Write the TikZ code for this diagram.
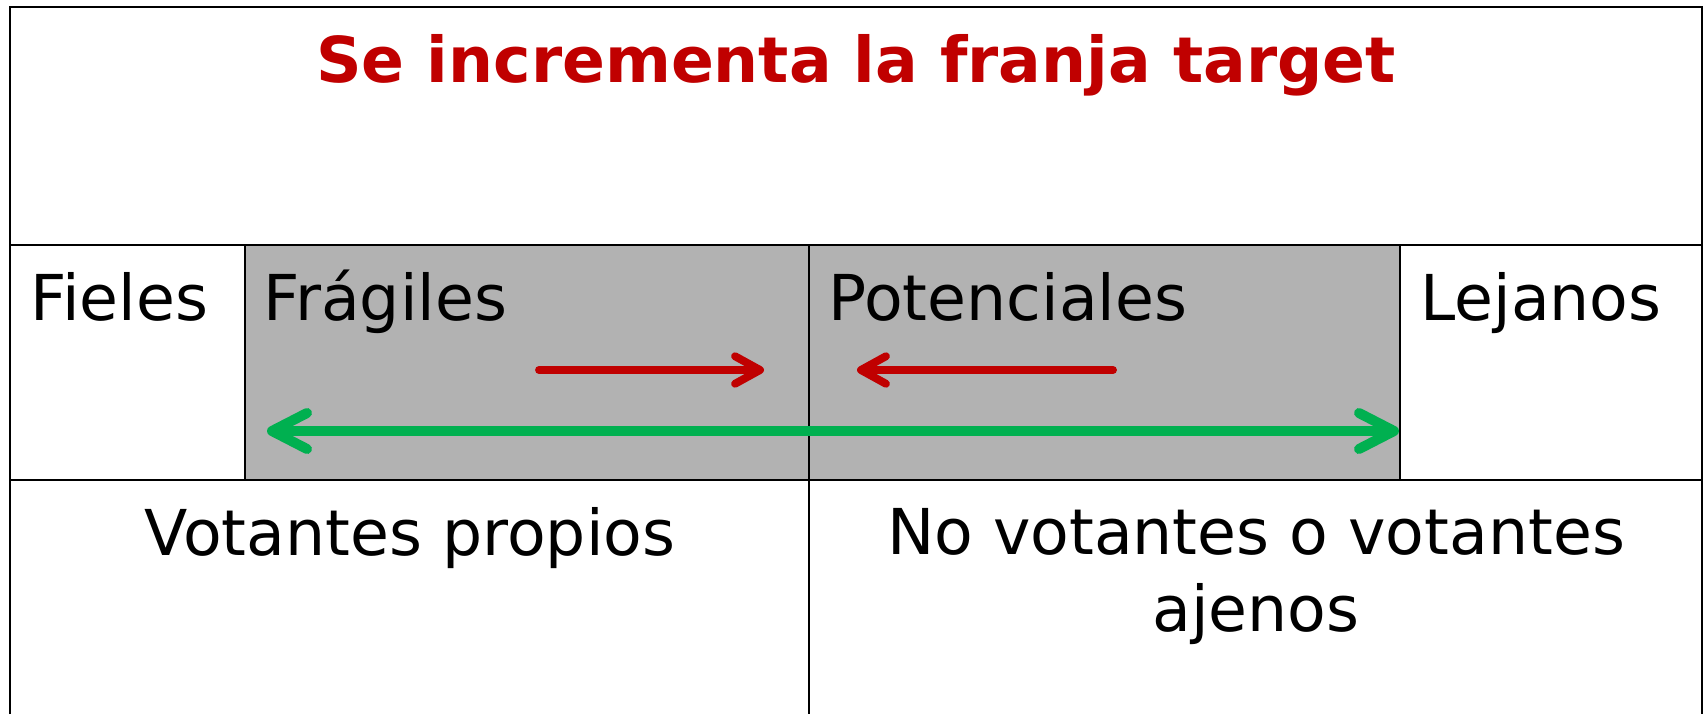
\documentclass[tikz,border=0pt]{standalone}
\usepackage{fontspec}
\setmainfont{DejaVu Sans}
\usetikzlibrary{arrows.meta}
\definecolor{rojo}{RGB}{192,0,0}
\definecolor{verde}{RGB}{0,176,80}
\definecolor{gris}{RGB}{178,178,178}

\begin{document}
\begin{tikzpicture}[x=0.02cm, y=-0.02cm,
    linea/.style={line width=1.4pt, black},
    texto/.style={font=\fontsize{36}{43.5}\selectfont, inner sep=0pt},
    titulo/.style={font=\fontsize{36}{43.5}\selectfont\bfseries, text=rojo, inner sep=0pt},
    flecharoja/.style={rojo, line width=4.5pt, line cap=round,
        -{Straight Barb[length=0.5cm, width=0.55cm, round]}},
    flechaverde/.style={verde, line width=5.7pt, line cap=round,
        {Straight Barb[length=0.7cm, width=0.72cm, round]}-{Straight Barb[length=0.7cm, width=0.72cm, round]}}]
    \useasboundingbox (0,0) rectangle (1707,714);
    \fill[white] (0,0) rectangle (1707,714);
    % franja target
    \fill[gris] (245,245) rectangle (1400,480);
    \draw[linea] (10,714) -- (10,7) -- (1702,7) -- (1702,714);
    \draw[linea] (10,245) -- (1702,245);
    \draw[linea] (10,480) -- (1702,480);
    \foreach \x in {245,1400} \draw[linea] (\x,245) -- (\x,480);
    \draw[linea] (809,245) -- (809,714);
    \node[titulo, anchor=base] (tit) at (856,82) {Se incrementa la franja target};
    \node[texto, anchor=base west] (fieles) at (30,320) {Fieles};
    \node[texto, anchor=base west] (fragiles) at (263,320) {Frágiles};
    \node[texto, anchor=base west] (potenciales) at (828,320) {Potenciales};
    \node[texto, anchor=base west] (lejanos) at (1420,320) {Lejanos};
    \node[texto, anchor=base] (propios) at (410,555) {Votantes propios};
    \node[texto, anchor=base, align=center] (ajenos) at (1256,631) {No votantes o votantes\\ajenos};
    % flechas
    \coordinate (r1a) at (539,370);
    \coordinate (r1b) at (764,370);
    \coordinate (r2a) at (1113,370);
    \coordinate (r2b) at (857,370);
    \coordinate (v1) at (267,431);
    \coordinate (v2) at (1399,431);
    \draw[flecharoja] (r1a) -- (r1b);
    \draw[flecharoja] (r2a) -- (r2b);
    \draw[flechaverde] (v1) -- (v2);
\end{tikzpicture}
\end{document}
